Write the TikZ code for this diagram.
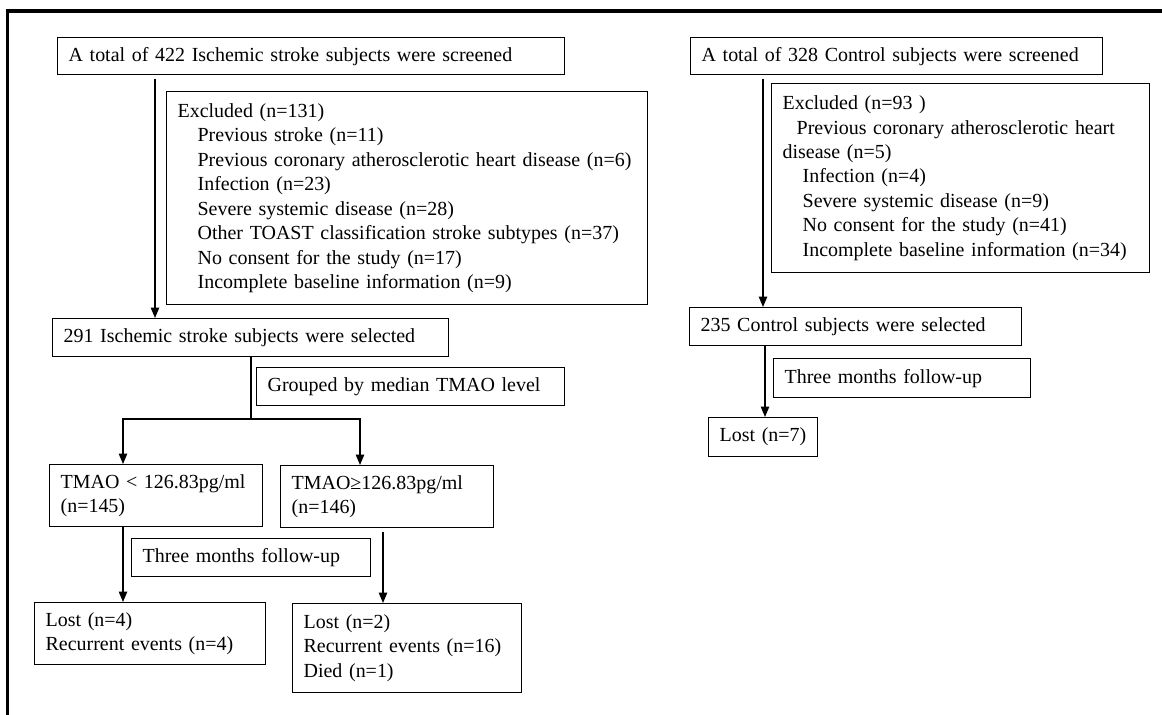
\documentclass[tikz,border=0pt]{standalone}
\usepackage{fontspec}
\setmainfont{Liberation Serif}
\usetikzlibrary{arrows.meta, positioning}
\tikzset{
    boxnode/.style = {draw, rectangle, line width=0.9pt, inner xsep=0.275cm, inner ysep=0em,
      align=left, anchor=north west, font=\fontsize{14.2}{17.4}\selectfont},
    connect/.style = {black, line width=0.9pt, -{Triangle[length=0.26cm, width=0.21cm]}},
    plainline/.style = {black, line width=0.9pt},
    framing/.style = {black, line width=2.2pt}
}

\begin{document}
\begin{tikzpicture}[x=0.025cm, y=-0.025cm]
    \useasboundingbox (0,0) rectangle (1162,715);
    \draw [framing] (1162,11) -- (7.5,11) -- (7.5,715);

    \node [boxnode, text width=12.125cm, minimum height=0.925cm] (scr1) at (57,37)
      {A total of 422 Ischemic stroke subjects were screened};
    \node [boxnode, text width=11.475cm, minimum height=5.325cm] (exc1) at (166,91)
      {Excluded (n=131)\\
       \hspace*{0.5cm}Previous stroke (n=11)\\
       \hspace*{0.5cm}Previous coronary atherosclerotic heart disease (n=6)\\
       \hspace*{0.5cm}Infection (n=23)\\
       \hspace*{0.5cm}Severe systemic disease (n=28)\\
       \hspace*{0.5cm}Other TOAST classification stroke subtypes (n=37)\\
       \hspace*{0.5cm}No consent for the study (n=17)\\
       \hspace*{0.5cm}Incomplete baseline information (n=9)};
    \node [boxnode, text width=9.35cm, minimum height=0.95cm] (sel1) at (52,318)
      {291 Ischemic stroke subjects were selected};
    \node [boxnode, text width=7.15cm, minimum height=0.95cm] (grp) at (256,367)
      {Grouped by median TMAO level};
    \node [boxnode, text width=4.775cm, minimum height=1.55cm] (low) at (49,464)
      {TMAO < 126.83pg/ml\\(n=145)};
    \node [boxnode, text width=4.775cm, minimum height=1.55cm] (high) at (280,465)
      {TMAO≥126.83pg/ml\\(n=146)};
    \node [boxnode, text width=5.425cm, minimum height=0.95cm] (fu1) at (131,538)
      {Three months follow-up};
    \node [boxnode, text width=5.225cm, minimum height=1.55cm] (outlow) at (34,602)
      {Lost (n=4)\\Recurrent events (n=4)};
    \node [boxnode, text width=5.175cm, minimum height=2.225cm] (outhigh) at (292,603)
      {Lost (n=2)\\Recurrent events (n=16)\\Died (n=1)};

    \node [boxnode, text width=9.75cm, minimum height=0.925cm] (scr2) at (690,37)
      {A total of 328 Control subjects were screened};
    \node [boxnode, text width=8.9cm, minimum height=4.725cm] (exc2) at (771,83)
      {Excluded (n=93 )\\
       \hspace*{0.35cm}Previous coronary atherosclerotic heart\\
       disease (n=5)\\
       \hspace*{0.5cm}Infection (n=4)\\
       \hspace*{0.5cm}Severe systemic disease (n=9)\\
       \hspace*{0.5cm}No consent for the study (n=41)\\
       \hspace*{0.5cm}Incomplete baseline information (n=34)};
    \node [boxnode, text width=7.75cm, minimum height=0.95cm] (sel2) at (689,307)
      {235 Control subjects were selected};
    \node [boxnode, text width=5.875cm, minimum height=0.975cm] (fu2) at (773,358)
      {Three months follow-up};
    \node [boxnode, text width=2.175cm, minimum height=0.975cm] (lost2) at (708,417)
      {Lost~(n=7)};

    \coordinate (in1) at (155,79);
    \draw [connect] (in1) -- (in1 |- sel1.north);
    \coordinate (split) at (251,419);
    \coordinate (lowin) at (123,419);
    \coordinate (highin) at (360,419);
    \draw [plainline] (sel1.south -| split) -- (split);
    \draw [connect] (split) -| (low.north -| lowin);
    \draw [connect] (split) -| (high.north -| highin);
    \draw [connect] (low.south -| lowin) -- (lowin |- outlow.north);
    \coordinate (in2) at (383,532);
    \draw [connect] (in2) -- (in2 |- outhigh.north);
    \coordinate (in3) at (763,79);
    \draw [connect] (in3) -- (in3 |- sel2.north);
    \coordinate (in4) at (765,0);
    \draw [connect] (sel2.south -| in4) -- (in4 |- lost2.north);
\end{tikzpicture}
\end{document}
